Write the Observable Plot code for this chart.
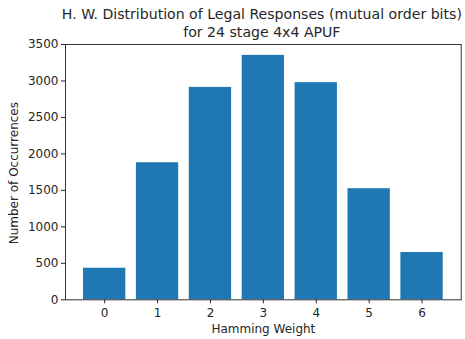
<!DOCTYPE html>
<html>
<head>
<meta charset="utf-8">
<script src="https://cdn.jsdelivr.net/npm/d3@7"></script>
<script src="https://cdn.jsdelivr.net/npm/@observablehq/plot@0.6"></script>
<style>
  html, body { margin: 0; padding: 0; background: #fff; }
  svg { display: block; }
</style>
</head>
<body>
<div id="chart"></div>
<script>
const weights = [0, 1, 2, 3, 4, 5, 6];
const occurrences = [433, 1879, 2912, 3351, 2977, 1523, 649];
const yTicks = [0, 500, 1000, 1500, 2000, 2500, 3000, 3500];
const titleLines = ["H. W. Distribution of Legal Responses (mutual order bits)", "for 24 stage 4x4 APUF"];
const xLabel = "Hamming Weight";
const yLabel = "Number of Occurrences";

const data = weights.map((w, i) => ({w, n: occurrences[i]}));
const font = "DejaVu Sans, sans-serif";

const chart = Plot.plot({
  width: 465,
  height: 339,
  marginTop: 44,
  marginLeft: 65,
  marginRight: 4.3,
  marginBottom: 39.7,
  style: {fontFamily: font, fontSize: "12px", color: "#262626", background: "#fff"},
  x: {type: "band", domain: weights, paddingInner: 0.2, paddingOuter: 0.34, round: false, label: null},
  y: {domain: [0, 3500], label: null},
  marks: [
    Plot.barY(data, {x: "w", y: "n", fill: "#1f77b4"}),
    Plot.frame({stroke: "#333", strokeWidth: 1}),
    Plot.axisY({ticks: yTicks, tickSize: 4, tickPadding: 3, fontSize: 12, label: null, tickFormat: d => String(d)}),
    Plot.axisX({tickSize: 4, tickPadding: 5, fontSize: 12, label: null}),
    Plot.text([titleLines[0]], {frameAnchor: "top", lineAnchor: "middle", dx: -1.5, dy: -30, fontSize: 14.1, text: d => d}),
    Plot.text([titleLines[1]], {frameAnchor: "top", lineAnchor: "middle", dx: -1.5, dy: -12.3, fontSize: 14.1, text: d => d}),
    Plot.text([xLabel], {frameAnchor: "bottom", lineAnchor: "middle", dy: 29.7, fontSize: 12, text: d => d}),
    Plot.text([yLabel], {frameAnchor: "left", textAnchor: "middle", lineAnchor: "middle", dx: -51, dy: 1, rotate: -90, fontSize: 12, text: d => d})
  ]
});
document.getElementById("chart").appendChild(chart);
</script>
</body>
</html>
